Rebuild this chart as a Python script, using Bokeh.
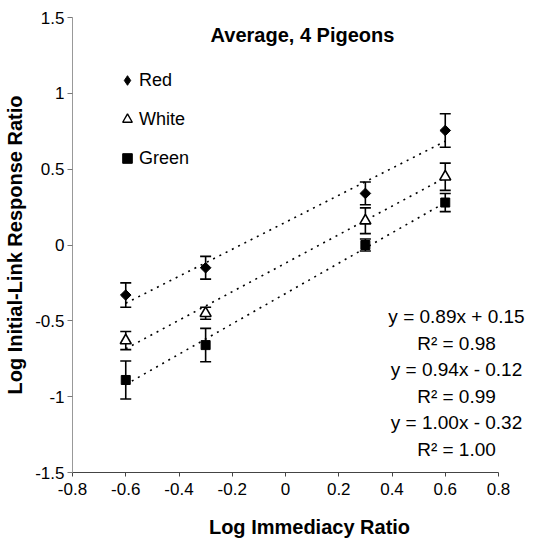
import numpy as np
from bokeh.plotting import figure
from bokeh.models import (ColumnDataSource, Whisker, TeeHead, Label, Legend,
                          LegendItem, FixedTicker, Range1d)
from bokeh.embed import file_html
from bokeh.resources import INLINE

# ---- data ----
x_vals = [-0.6, -0.3, 0.3, 0.6]
red = [-0.33, -0.15, 0.34, 0.755]
red_err = [0.08, 0.075, 0.075, 0.11]
white = [-0.63, -0.45, 0.16, 0.45]
white_err = [0.06, 0.04, 0.085, 0.09]
green = [-0.89, -0.66, 0.0, 0.28]
green_err = [0.125, 0.11, 0.04, 0.06]

series_names = ["Red", "White", "Green"]
slopes = [0.89, 0.94, 1.00]
intercepts = [0.15, -0.12, -0.32]
equations = ["y = 0.89x + 0.15", "R\u00b2 = 0.98",
             "y = 0.94x - 0.12", "R\u00b2 = 0.99",
             "y = 1.00x - 0.32", "R\u00b2 = 1.00"]

x_ticks = [-0.8, -0.6, -0.4, -0.2, 0, 0.2, 0.4, 0.6, 0.8]
x_tick_labels = ["-0.8", "-0.6", "-0.4", "-0.2", "0", "0.2", "0.4", "0.6", "0.8"]
y_ticks = [-1.5, -1, -0.5, 0, 0.5, 1, 1.5]
y_tick_labels = ["-1.5", "-1", "-0.5", "0", "0.5", "1", "1.5"]

title_text = "Average, 4 Pigeons"
x_label = "Log Immediacy Ratio"
y_label = "Log Initial-Link Response Ratio"

FONT = "Liberation Sans"

# frame: x axis -0.8..0.8 spans 426 px; frame extended right so text fits
LEFT, RIGHT, TOP, BOTTOM = 72, 4, 17, 70
frame_w = 550 - LEFT - RIGHT
x_end = -0.8 + frame_w * 1.6 / 426

p = figure(width=550, height=542, output_backend="svg", toolbar_location=None,
           x_range=Range1d(-0.8, x_end), y_range=Range1d(-1.5, 1.5),
           min_border_left=LEFT, min_border_right=RIGHT, min_border_top=TOP,
           min_border_bottom=BOTTOM)
p.outline_line_color = None
p.xgrid.grid_line_color = None
p.ygrid.grid_line_color = None
p.background_fill_color = "white"
p.border_fill_color = "white"

# axes
p.xaxis.ticker = FixedTicker(ticks=x_ticks)
p.xaxis.major_label_overrides = dict(zip(x_ticks, x_tick_labels))
p.xaxis.bounds = (-0.8, 0.8)
p.yaxis.ticker = FixedTicker(ticks=y_ticks)
p.yaxis.major_label_overrides = dict(zip(y_ticks, y_tick_labels))
for ax in (p.xaxis, p.yaxis):
    ax.minor_tick_line_color = None
    ax.major_tick_in = 0
    ax.major_label_text_font = FONT
    ax.major_label_text_font_size = "17px"
    ax.major_label_text_color = "black"
    ax.axis_label_text_font = FONT
    ax.axis_label_text_font_style = "bold"
    ax.axis_label_text_font_size = "20px"
    ax.axis_label_text_color = "black"
p.xaxis.major_tick_out = 4
p.yaxis.major_tick_out = 5
p.xaxis.axis_line_color = "#444444"
p.xaxis.major_tick_line_color = "#444444"
p.yaxis.axis_line_color = "#999999"
p.yaxis.major_tick_line_color = "#777777"
p.xaxis.major_label_standoff = 6
p.yaxis.major_label_standoff = 3
p.xaxis.axis_label = x_label
p.yaxis.axis_label = y_label
p.xaxis.axis_label_standoff = 18
p.yaxis.axis_label_standoff = 6

# trend lines
series = [(red, red_err), (white, white_err), (green, green_err)]
xs_line = np.array([min(x_vals), max(x_vals)])
for m, b in zip(slopes, intercepts):
    p.line(xs_line, m * xs_line + b, line_color="black", line_width=1.6,
           line_dash="2 5")

# error bars
for yv, ev in series:
    yv = np.array(yv)
    ev = np.array(ev)
    src = ColumnDataSource(dict(base=x_vals, upper=yv + ev, lower=yv - ev))
    w = Whisker(source=src, base="base", upper="upper", lower="lower",
                line_color="black", line_width=1.6,
                upper_head=TeeHead(size=11, line_color="black", line_width=1.6),
                lower_head=TeeHead(size=11, line_color="black", line_width=1.6))
    p.add_layout(w)

# markers
p.scatter(x_vals, red, marker="square", angle=np.pi / 4, size=7.5,
          fill_color="black", line_color="black")
p.scatter(x_vals, white, marker="triangle", size=11,
          fill_color="white", line_color="black", line_width=1.6)
p.scatter(x_vals, green, marker="square", size=9,
          fill_color="black", line_color="black")

# legend-only glyphs (no visible points); legend glyph size = 0.4*glyph box
nan = [np.nan]
lg_red = p.scatter(nan, nan, marker="diamond", fill_color="black",
                   line_color="black")
lg_white = p.scatter(nan, nan, marker="triangle", fill_color="white",
                     line_color="black", line_width=1.4)
lg_green = p.scatter(nan, nan, marker="square", fill_color="black",
                     line_color="black")

legend = Legend(items=[LegendItem(label=series_names[0], renderers=[lg_red], index=0),
                       LegendItem(label=series_names[1], renderers=[lg_white], index=0),
                       LegendItem(label=series_names[2], renderers=[lg_green], index=0)],
                location=(43, 302), orientation="vertical",
                border_line_color=None, background_fill_alpha=0,
                padding=0, margin=0, spacing=15, glyph_width=24,
                glyph_height=24, label_height=20, label_standoff=0,
                label_text_font=FONT, label_text_font_size="18px",
                label_text_color="black", label_text_baseline="middle")
p.add_layout(legend, "center")

# title inside plot
p.add_layout(Label(x=230, y=438, x_units="screen", y_units="screen",
                   text=title_text, text_font=FONT, text_font_style="bold",
                   text_font_size="20px", text_align="center",
                   text_baseline="middle", text_color="black"))

# equations
eq_x = 456 - LEFT
eq_y0 = 472 - 316
for i, t in enumerate(equations):
    p.add_layout(Label(x=eq_x, y=eq_y0 - i * 26.5, x_units="screen",
                       y_units="screen", text=t, text_font=FONT,
                       text_font_size="19px", text_align="center",
                       text_baseline="middle", text_color="black"))

open("out.html", "w").write(file_html(p, INLINE))
